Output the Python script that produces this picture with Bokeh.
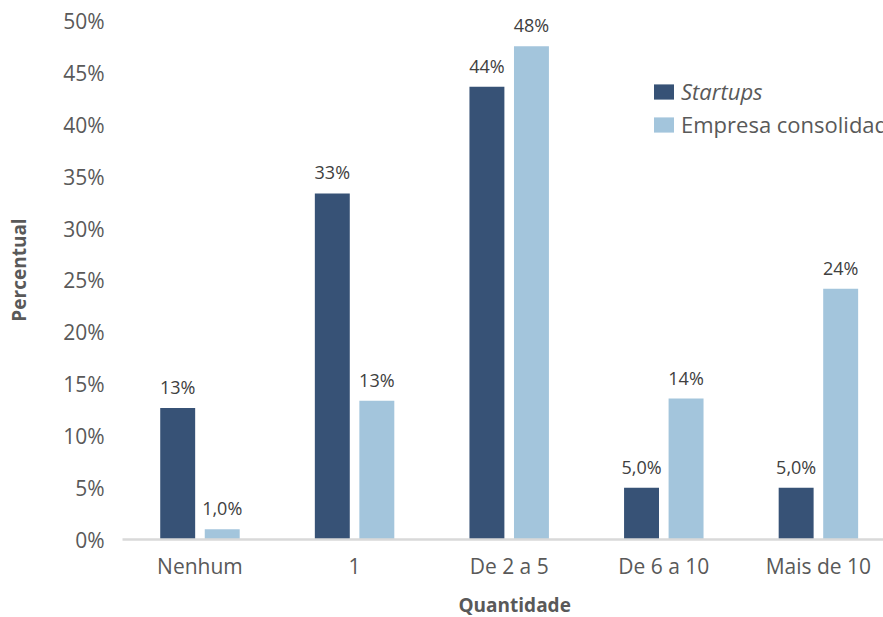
from bokeh.core.properties import value
from bokeh.embed import file_html
from bokeh.models import (ColumnDataSource, FixedTicker, Legend, LegendItem,
                          PrintfTickFormatter, Range1d, Title)
from bokeh.plotting import figure
from bokeh.resources import INLINE
from bokeh.transform import dodge

# --- data -------------------------------------------------------------------
categories = ["Nenhum", "1", "De 2 a 5", "De 6 a 10", "Mais de 10"]
startups = [12.7, 33.4, 43.7, 5.0, 5.0]
consolidada = [1.0, 13.4, 47.6, 13.6, 24.2]
series_names = ["Startups", "Empresa consolidada"]
y_ticks = [0, 5, 10, 15, 20, 25, 30, 35, 40, 45, 50]
x_title = "Quantidade"
y_title = "Percentual"

DARK = "#375276"
LIGHT = "#a3c5dc"
FONT = "Open Sans"
GREY = "#595959"


def pct(v):
    """Percent label: one decimal with comma below 10, whole number otherwise."""
    if v < 10:
        return f"{v:.1f}%".replace(".", ",")
    return f"{int(v + 0.5)}%"


idx = list(range(len(categories)))
src = ColumnDataSource(dict(
    idx=idx,
    startups=startups,
    consolidada=consolidada,
    lab_s=[pct(v) for v in startups],
    lab_c=[pct(v) for v in consolidada],
))

# --- figure -----------------------------------------------------------------
p = figure(
    width=883, height=617,
    x_range=Range1d(-0.501, 4.421),
    y_range=Range1d(0, 52.02),
    min_border_left=122, min_border_right=0,
    min_border_top=0, min_border_bottom=77,
    output_backend="svg", toolbar_location=None,
    outline_line_color=None, background_fill_color="white",
)
p.xgrid.visible = False
p.ygrid.visible = False

BAR_W = 0.226
OFF = 0.144

r1 = p.vbar(x=dodge("idx", -OFF, range=p.x_range), top="startups", width=BAR_W,
            source=src, fill_color=DARK, line_color=None)
r2 = p.vbar(x=dodge("idx", OFF, range=p.x_range), top="consolidada", width=BAR_W,
            source=src, fill_color=LIGHT, line_color=None)

# value labels above the bars
for col, lab, off in (("startups", "lab_s", -OFF), ("consolidada", "lab_c", OFF)):
    p.text(x=dodge("idx", off, range=p.x_range), y=col, text=lab, source=src,
           text_align="center", text_baseline="alphabetic", y_offset=-21,
           text_font=value(FONT), text_font_size="18px", text_color="#404040")

# --- axes -------------------------------------------------------------------
ya = p.yaxis[0]
ya.ticker = FixedTicker(ticks=y_ticks)
ya.formatter = PrintfTickFormatter(format="%d%%")
ya.axis_line_color = None
ya.major_tick_line_color = None
ya.minor_tick_line_color = None
ya.major_tick_out = 0
ya.major_tick_in = 0
ya.major_label_standoff = 18
ya.major_label_text_font = FONT
ya.major_label_text_font_size = "21px"
ya.major_label_text_color = GREY
ya.axis_label = y_title
ya.axis_label_standoff = 28
ya.axis_label_text_font = FONT
ya.axis_label_text_font_size = "19px"
ya.axis_label_text_font_style = "bold"
ya.axis_label_text_color = GREY

xa = p.xaxis[0]
xa.ticker = FixedTicker(ticks=idx)
xa.major_label_overrides = {i: c for i, c in zip(idx, categories)}
xa.axis_line_color = "#d9d9d9"
xa.axis_line_width = 2.5
xa.major_tick_line_color = None
xa.minor_tick_line_color = None
xa.major_tick_out = 0
xa.major_tick_in = 0
xa.major_label_standoff = 12
xa.major_label_text_font = FONT
xa.major_label_text_font_size = "21px"
xa.major_label_text_color = GREY

# a thin blank strip between the category labels and the axis title
p.add_layout(Title(text=" ", standoff=0, text_font_size="4px"), "below")

# horizontal axis title under the category labels
p.add_layout(Title(text=x_title, align="left", offset=336, standoff=0,
                   vertical_align="bottom",
                   text_font=FONT, text_font_size="19px", text_font_style="bold",
                   text_color=GREY), "below")

# --- legend -----------------------------------------------------------------
common = dict(glyph_width=25, glyph_height=19, label_standoff=5, padding=0,
              margin=0, spacing=0, border_line_color=None,
              background_fill_alpha=0, label_text_font=FONT,
              label_text_font_size="22px", label_text_color=GREY,
              label_height=19)
leg1 = Legend(items=[LegendItem(label=series_names[0], renderers=[r1])],
              location=(529, 433), label_text_font_style="italic", **common)
leg2 = Legend(items=[LegendItem(label=series_names[1], renderers=[r2])],
              location=(529, 400), **common)
p.add_layout(leg1)
p.add_layout(leg2)

open("out.html", "w").write(file_html(p, INLINE))
